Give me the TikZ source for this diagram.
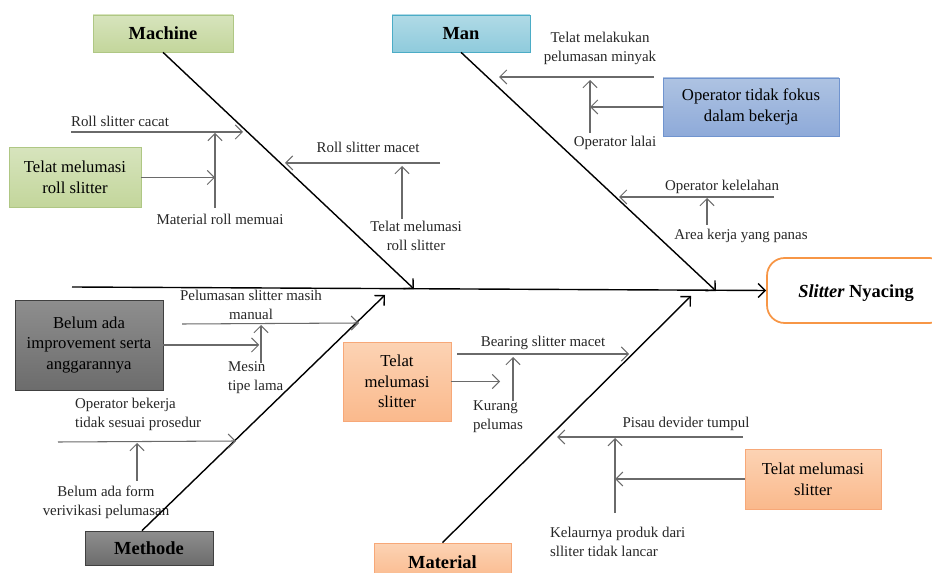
\documentclass[tikz,border=0pt]{standalone}
\usepackage{fontspec}
\setmainfont{Liberation Serif}
\usepackage{tikz}
\usetikzlibrary{arrows.meta}
\usepackage{xcolor}

\definecolor{greentop}{HTML}{D7E4BD}
\definecolor{greenbot}{HTML}{C3D69B}
\definecolor{greenline}{HTML}{AFC784}
\definecolor{bluetop}{HTML}{B0DAE6}
\definecolor{bluebot}{HTML}{8FCBDC}
\definecolor{blueline}{HTML}{4BACC6}
\definecolor{optop}{HTML}{AEC3E2}
\definecolor{opbot}{HTML}{8EAAD9}
\definecolor{opline}{HTML}{7094CF}
\definecolor{graytop}{HTML}{8E8E8E}
\definecolor{graybot}{HTML}{6C6C6C}
\definecolor{orangetop}{HTML}{FCD3B4}
\definecolor{orangebot}{HTML}{FAB98C}
\definecolor{orangeline}{HTML}{F7A878}
\definecolor{headline}{HTML}{F79646}
\definecolor{causeline}{HTML}{6A6A6A}

\begin{document}
\begin{tikzpicture}[x=0.02cm,y=-0.02cm,>={Straight Barb[length=4pt,width=8pt]},
  cat node/.style={draw,font=\fontsize{10.5}{12}\selectfont\bfseries,inner sep=0pt},
  cause box/.style={draw,font=\fontsize{9.5}{11.8}\selectfont,align=center,inner sep=0pt},
  cause text/.style={font=\fontsize{8.5}{10.8}\selectfont,align=center,inner sep=1pt,text=black!85},
  spine/.style={->,line width=0.8pt},
  cause/.style={->,causeline,line width=0.6pt},
  green box/.style={top color=greentop,bottom color=greenbot,draw=greenline},
  gray box/.style={top color=graytop,bottom color=graybot,draw=black!75},
  orange box/.style={top color=orangetop,bottom color=orangebot,draw=orangeline}]

  \useasboundingbox (0,0) rectangle (932,573);

  % categories
  \node[cat node,green box,minimum width=2.8cm,minimum height=0.74cm] (machine) at (163,33.5) {Machine};
  \node[cat node,top color=bluetop,bottom color=bluebot,draw=blueline,
        minimum width=2.76cm,minimum height=0.74cm] (man) at (461,33.5) {Man};
  \node[cat node,gray box,minimum width=2.56cm,minimum height=0.68cm] (methode) at (149,548) {Methode};
  \node[cat node,orange box,minimum width=2.74cm,minimum height=0.76cm] (material) at (442.5,562) {Material};

  % effect
  \node[draw=headline,fill=white,line width=1pt,rounded corners=10pt,
        font=\fontsize{10.5}{12}\selectfont\bfseries,
        minimum width=3.6cm,minimum height=1.3cm] (effect) at (857,290.5) {};
  \node[font=\fontsize{10.5}{12}\selectfont\bfseries] (effecttext) at (856,293) {\textit{Slitter} Nyacing};

  % root causes in boxes
  \node[cause box,green box,minimum width=2.64cm,minimum height=1.2cm] (rollbox) at (75,177.5)
       {Telat melumasi\\roll slitter};
  \node[cause box,top color=optop,bottom color=opbot,draw=opline,
        minimum width=3.52cm,minimum height=1.16cm] (fokus) at (751,107)
       {Operator tidak fokus\\dalam bekerja};
  \node[cause box,gray box,minimum width=2.96cm,minimum height=1.8cm] (improve) at (89,345)
       {Belum ada\\improvement serta\\anggarannya};
  \node[cause box,orange box,minimum width=2.16cm,minimum height=1.58cm] (slitbox) at (397,381.5)
       {Telat\\melumasi\\slitter};
  \node[cause box,orange box,minimum width=2.72cm,minimum height=1.2cm] (pisaubox) at (813,479)
       {Telat melumasi\\slitter};

  % cause texts
  \node[cause text] (cacat) at (120,121) {Roll slitter cacat};
  \node[cause text] (memuai) at (220,219) {Material roll memuai};
  \node[cause text] (macet) at (368,147) {Roll slitter macet};
  \node[cause text] (rolllate) at (416,236) {Telat melumasi\\roll slitter};
  \node[cause text] (minyak) at (600,48) {Telat melakukan\\pelumasan minyak};
  \node[cause text] (lalai) at (615,143) {Operator lalai};
  \node[cause text] (lelah) at (722,187) {Operator kelelahan};
  \node[cause text] (panas) at (741,236) {Area kerja yang panas};
  \node[cause text] (manual) at (251,305) {Pelumasan slitter masih\\manual};
  \node[cause text,align=left,anchor=west] (mesin) at (226,378) {Mesin\\tipe lama};
  \node[cause text,align=left,anchor=west] (prosedur) at (73,414) {Operator bekerja\\tidak sesuai prosedur};
  \node[cause text] (form) at (106,502) {Belum ada form\\verivikasi pelumasan};
  \node[cause text] (bearing) at (543,343) {Bearing slitter macet};
  \node[cause text,align=left,anchor=west] (kurang) at (471,417) {Kurang\\pelumas};
  \node[cause text] (pisau) at (686,424) {Pisau devider tumpul};
  \node[cause text,align=left,anchor=west] (keluar) at (548,542) {Kelaurnya produk dari\\slliter tidak lancar};

  % end points of the lines
  \coordinate (tail) at (72,287);
  \coordinate (mach end) at (414,289);
  \coordinate (man end) at (716,291);
  \coordinate (meth end) at (385,295);
  \coordinate (mat end) at (691,296);

  \coordinate (cacat a) at (71,132);   \coordinate (cacat b) at (243,132);
  \coordinate (memuai a) at (215,208); \coordinate (memuai b) at (215,133);
  \coordinate (macet a) at (440,163);  \coordinate (macet b) at (285,163);
  \coordinate (rolllate a) at (402,219); \coordinate (rolllate b) at (402,166);

  \coordinate (minyak a) at (654,77);  \coordinate (minyak b) at (499,77);
  \coordinate (lalai a) at (590,133);  \coordinate (lalai b) at (590,80);
  \coordinate (lelah a) at (774,197);  \coordinate (lelah b) at (619,197);
  \coordinate (panas a) at (707,225);  \coordinate (panas b) at (707,198);

  \coordinate (manual a) at (182,324); \coordinate (manual b) at (359,323);
  \coordinate (mesin a) at (261,363);  \coordinate (mesin b) at (261,325);
  \coordinate (prosedur a) at (58,442); \coordinate (prosedur b) at (236,441);
  \coordinate (form a) at (137,481);   \coordinate (form b) at (137,443);

  \coordinate (bearing a) at (457,354); \coordinate (bearing b) at (629,354);
  \coordinate (kurang a) at (513,401);  \coordinate (kurang b) at (513,357);
  \coordinate (slitbox b) at (500,381.5);
  \coordinate (pisau a) at (743,437);   \coordinate (pisau b) at (557,437);
  \coordinate (keluar a) at (615,513);  \coordinate (keluar b) at (615,438);

  % main bones
  \draw[spine] (tail) -- (effect.west);
  \draw[spine] (machine.south) -- (mach end);
  \draw[spine] (man.south) -- (man end);
  \draw[spine] ([xshift=-4pt]methode.north) -- (meth end);
  \draw[spine] (material.north) -- (mat end);

  % machine
  \draw[cause] (cacat a) -- (cacat b);
  \draw[cause] (memuai a) -- (memuai b);
  \draw[cause] (rollbox.east) -- (rollbox.east -| memuai a);
  \draw[cause] (macet a) -- (macet b);
  \draw[cause] (rolllate a) -- (rolllate b);

  % man
  \draw[cause] (minyak a) -- (minyak b);
  \draw[cause] (lalai a) -- (lalai b);
  \draw[cause] (fokus.west) -- (fokus.west -| lalai a);
  \draw[cause] (lelah a) -- (lelah b);
  \draw[cause] (panas a) -- (panas b);

  % methode
  \draw[cause] (manual a) -- (manual b);
  \draw[cause] (mesin a) -- (mesin b);
  \draw[cause] (improve.east) -- ([xshift=-1pt]improve.east -| mesin a);
  \draw[cause] (prosedur a) -- (prosedur b);
  \draw[cause] (form a) -- (form b);

  % material
  \draw[cause] (bearing a) -- (bearing b);
  \draw[cause] (kurang a) -- (kurang b);
  \draw[cause] (slitbox.east) -- (slitbox b);
  \draw[cause] (pisau a) -- (pisau b);
  \draw[cause] (keluar a) -- (keluar b);
  \draw[cause] (pisaubox.west) -- (pisaubox.west -| keluar a);

\end{tikzpicture}
\end{document}
